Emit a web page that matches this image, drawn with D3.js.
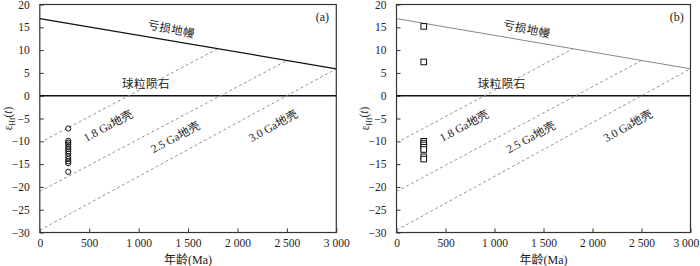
<!DOCTYPE html>
<html>
<head>
<meta charset="utf-8">
<script src="https://cdn.jsdelivr.net/npm/d3@7"></script>
<style>
  body { margin: 0; background: #fff; }
  svg text { font-family: "Liberation Serif", "Noto Sans CJK SC", serif; fill: #222; }
</style>
</head>
<body>
<svg id="chart" width="700" height="266"></svg>
<script>
const AGE_TICKS = [0, 500, 1000, 1500, 2000, 2500, 3000];
const EPS_TICKS = [-30, -25, -20, -15, -10, -5, 0, 5, 10, 15, 20];

// depleted mantle evolution line
const DM_AGE = [0, 3000];
const DM_EPS = [16.9, 5.9];

// crustal evolution lines: start at 0 Ma, end on the depleted mantle line
const CRUST_NAMES = ['1.8 Ga地壳', '2.5 Ga地壳', '3.0 Ga地壳'];
const CRUST_START = [-10.3, -21.0, -29.5];
const CRUST_END_AGE = [1800, 2500, 3000];
const CRUST_END_EPS = [10.3, 7.7, 5.9];
// label anchor points in data units
const CRUST_LABEL_AGE = [690, 1370, 2360];
const CRUST_LABEL_EPS = [-6.6, -9.1, -6.6];

// panel (a) circles
const CIRCLE_AGE = [288, 288, 288, 288, 288, 288, 288, 288, 288, 288, 288, 288, 288];
const CIRCLE_EPS = [-7.2, -9.9, -10.3, -10.7, -11.2, -11.7, -12.2, -12.7, -13.3, -13.9, -14.4, -14.8, -16.7];

// panel (b) squares
const SQUARE_AGE = [278, 278, 278, 278, 278, 278, 278, 278, 278];
const SQUARE_EPS = [15.2, 7.4, -10.0, -10.4, -10.8, -11.3, -11.8, -13.4, -13.9];

const PANELS = [
  {tag: '(a)', left: 39.8, right: 336.3, dmColor: '#111', dmWidth: 1.3, marker: 'circle'},
  {tag: '(b)', left: 396.5, right: 690.5, dmColor: '#888', dmWidth: 1, marker: 'square'},
];
const PLOT_TOP = 4.5;
const PLOT_BOTTOM = 232.5;
const SVG_WIDTH = 700;

const svg = d3.select('#chart');

/**
 * Formats a tick value: minus sign, space as thousands separator.
 * @param {number} d
 * @return {string}
 */
function fmt(d) {
  if (d < 0) return '\u2212' + Math.abs(d);
  if (d >= 1000) return Math.floor(d / 1000) + ' ' + String(d % 1000).padStart(3, '0');
  return '' + d;
}

/**
 * Draws one panel.
 * @param {!Object} panel
 */
function drawPanel(panel) {
  const x = d3.scaleLinear().domain([0, 3000]).range([panel.left, panel.right]);
  const y = d3.scaleLinear().domain([-30, 20]).range([PLOT_BOTTOM, PLOT_TOP]);
  const g = svg.append('g');

  // axes
  const xAxis = g.append('g')
      .attr('transform', `translate(0,${PLOT_BOTTOM})`)
      .call(d3.axisBottom(x).tickValues(AGE_TICKS).tickSize(-4).tickPadding(6).tickFormat(fmt));
  const yAxis = g.append('g')
      .attr('transform', `translate(${panel.left},0)`)
      .call(d3.axisLeft(y).tickValues(EPS_TICKS).tickSize(-4).tickPadding(10).tickFormat(fmt));
  for (const ax of [xAxis, yAxis]) {
    ax.select('.domain').remove();
    ax.selectAll('line').attr('stroke', '#333');
    ax.selectAll('text').attr('font-size', 11.5).attr('fill', '#222')
        .attr('font-family', '"Liberation Serif", serif');
  }
  // keep the last x label inside the picture
  xAxis.selectAll('.tick text').each(function() {
    const box = this.getBBox();
    const tick = d3.select(this.parentNode).datum();
    const over = x(tick) + box.x + box.width - (SVG_WIDTH - 1);
    if (over > 0) d3.select(this).attr('dx', -over);
  });

  // frame
  g.append('rect')
      .attr('x', panel.left).attr('y', PLOT_TOP)
      .attr('width', panel.right - panel.left).attr('height', PLOT_BOTTOM - PLOT_TOP)
      .attr('fill', 'none').attr('stroke', '#333').attr('stroke-width', 1.2);

  // chondrite line
  g.append('line')
      .attr('x1', x(0)).attr('x2', x(3000)).attr('y1', y(0)).attr('y2', y(0))
      .attr('stroke', '#111').attr('stroke-width', 1.5);

  // crustal evolution lines
  CRUST_NAMES.forEach((name, i) => {
    g.append('line')
        .attr('x1', x(0)).attr('y1', y(CRUST_START[i]))
        .attr('x2', x(CRUST_END_AGE[i])).attr('y2', y(CRUST_END_EPS[i]))
        .attr('stroke', '#888').attr('stroke-width', 0.9).attr('stroke-dasharray', '3,2.5');
    const ang = Math.atan2(y(CRUST_END_EPS[i]) - y(CRUST_START[i]),
        x(CRUST_END_AGE[i]) - x(0)) * 180 / Math.PI;
    g.append('text')
        .attr('transform', `translate(${x(CRUST_LABEL_AGE[i])},${y(CRUST_LABEL_EPS[i])}) rotate(${ang})`)
        .attr('text-anchor', 'middle').attr('dy', '0.35em')
        .attr('font-size', 11.5).attr('fill', '#333')
        .text(name);
  });

  // depleted mantle line
  g.append('line')
      .attr('x1', x(DM_AGE[0])).attr('y1', y(DM_EPS[0]))
      .attr('x2', x(DM_AGE[1])).attr('y2', y(DM_EPS[1]))
      .attr('stroke', panel.dmColor).attr('stroke-width', panel.dmWidth);
  const dmAng = Math.atan2(y(DM_EPS[1]) - y(DM_EPS[0]), x(DM_AGE[1]) - x(DM_AGE[0])) * 180 / Math.PI;
  g.append('text')
      .attr('transform', `translate(${x(1330)},${y(14.6)}) rotate(${dmAng + 2})`)
      .attr('text-anchor', 'middle').attr('dy', '0.35em')
      .attr('font-size', 11.5).attr('letter-spacing', 0.5).attr('fill', '#333')
      .text('亏损地幔');

  g.append('text')
      .attr('x', x(1075)).attr('y', y(2.6)).attr('dy', '0.35em')
      .attr('text-anchor', 'middle').attr('font-size', 11.5).attr('letter-spacing', 0.5)
      .attr('fill', '#333')
      .text('球粒陨石');

  g.append('text')
      .attr('x', x(2860)).attr('y', y(17.4)).attr('dy', '0.35em')
      .attr('text-anchor', 'middle').attr('font-size', 12)
      .text(panel.tag);

  // data
  if (panel.marker === 'circle') {
    g.selectAll('circle.pt').data(CIRCLE_EPS).join('circle')
        .attr('class', 'pt')
        .attr('cx', (d, i) => x(CIRCLE_AGE[i])).attr('cy', d => y(d)).attr('r', 2.6)
        .attr('fill', 'none').attr('stroke', '#111').attr('stroke-width', 1);
  } else {
    g.selectAll('rect.pt').data(SQUARE_EPS).join('rect')
        .attr('class', 'pt')
        .attr('x', (d, i) => x(SQUARE_AGE[i]) - 2.8).attr('y', d => y(d) - 2.8)
        .attr('width', 5.6).attr('height', 5.6)
        .attr('fill', '#fff').attr('stroke', '#111').attr('stroke-width', 1);
  }

  // axis titles
  const yl = g.append('text')
      .attr('transform', `translate(${panel.left - 32},${(PLOT_TOP + PLOT_BOTTOM) / 2}) rotate(-90)`)
      .attr('text-anchor', 'middle').attr('dy', '0.35em').attr('font-size', 11.5);
  yl.append('tspan').text('ε');
  yl.append('tspan').attr('font-size', 7.5).attr('dy', '0.45em').text('Hf');
  yl.append('tspan').attr('dy', '-0.3em').text('(');
  yl.append('tspan').attr('font-style', 'italic').text('t');
  yl.append('tspan').text(')');

  const xl = g.append('text')
      .attr('x', (panel.left + panel.right) / 2).attr('y', 260).attr('dy', '0.35em')
      .attr('text-anchor', 'middle').attr('font-size', 12).attr('fill', '#333');
  xl.append('tspan').text('年龄');
  xl.append('tspan').attr('font-family', '"Liberation Serif", serif').text('(Ma)');
}

PANELS.forEach(drawPanel);
</script>
</body>
</html>
